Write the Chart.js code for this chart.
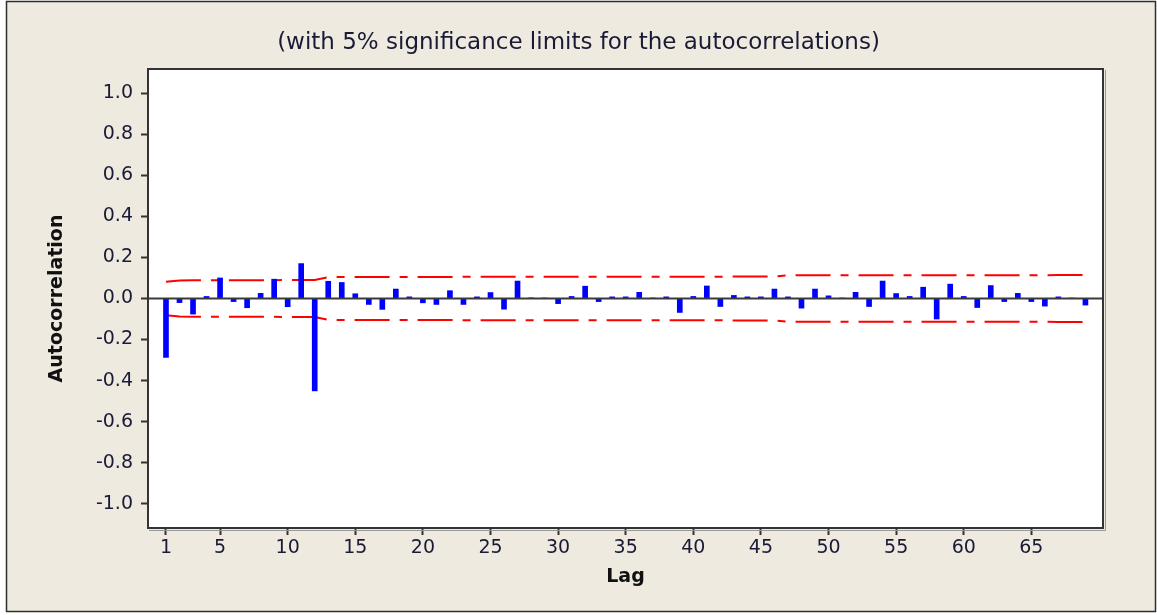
<!DOCTYPE html>
<html>
<head>
<meta charset="utf-8">
<script src="https://cdn.jsdelivr.net/npm/chart.js@4/dist/chart.umd.min.js"></script>
<style>
  html, body { margin: 0; padding: 0; background: #ffffff; }
  #wrap { width: 1157px; height: 615px; }
</style>
</head>
<body>
<div id="wrap"><canvas id="acf" width="1157" height="615"></canvas></div>
<script>
// Lags and sample autocorrelations
const lags = [
  1, 2, 3, 4, 5, 6, 7, 8, 9, 10, 11, 12, 13, 14, 15, 16, 17, 18, 19, 20,
  21, 22, 23, 24, 25, 26, 27, 28, 29, 30, 31, 32, 33, 34, 35, 36, 37, 38, 39, 40,
  41, 42, 43, 44, 45, 46, 47, 48, 49, 50, 51, 52, 53, 54, 55, 56, 57, 58, 59, 60,
  61, 62, 63, 64, 65, 66, 67, 68, 69
];
const acf = [
  -0.287, -0.020, -0.076, 0.010, 0.100, -0.015, -0.045, 0.025, 0.094, -0.040,
  0.170, -0.450, 0.084, 0.078, 0.023, -0.029, -0.053, 0.046, 0.008, -0.021,
  -0.029, 0.038, -0.029, 0.008, 0.029, -0.052, 0.085, 0.003, 0.002, -0.025,
  0.010, 0.060, -0.015, 0.008, 0.008, 0.030, 0.002, 0.008, -0.068, 0.010,
  0.061, -0.039, 0.015, 0.008, 0.008, 0.046, 0.008, -0.047, 0.046, 0.013,
  0.002, 0.030, -0.039, 0.085, 0.024, 0.010, 0.055, -0.100, 0.070, 0.010,
  -0.044, 0.063, -0.015, 0.025, -0.015, -0.037, 0.008, 0.002, -0.032
];
// 5% significance limits per lag
const upperLimit = [
  0.082, 0.088, 0.089, 0.089, 0.089, 0.089, 0.089, 0.089, 0.089, 0.090,
  0.090, 0.090, 0.104, 0.105, 0.105, 0.105, 0.105, 0.105, 0.105, 0.105,
  0.105, 0.105, 0.106, 0.106, 0.106, 0.106, 0.106, 0.106, 0.106, 0.106,
  0.106, 0.106, 0.106, 0.106, 0.106, 0.106, 0.106, 0.106, 0.106, 0.106,
  0.106, 0.106, 0.107, 0.107, 0.107, 0.107, 0.113, 0.113, 0.113, 0.113,
  0.113, 0.113, 0.113, 0.113, 0.113, 0.113, 0.113, 0.113, 0.113, 0.113,
  0.113, 0.113, 0.113, 0.113, 0.113, 0.113, 0.114, 0.114, 0.114
];
const lowerLimit = [
  -0.082, -0.088, -0.089, -0.089, -0.089, -0.089, -0.089, -0.089, -0.089, -0.090,
  -0.090, -0.090, -0.104, -0.105, -0.105, -0.105, -0.105, -0.105, -0.105, -0.105,
  -0.105, -0.105, -0.106, -0.106, -0.106, -0.106, -0.106, -0.106, -0.106, -0.106,
  -0.106, -0.106, -0.106, -0.106, -0.106, -0.106, -0.106, -0.106, -0.106, -0.106,
  -0.106, -0.106, -0.107, -0.107, -0.107, -0.107, -0.113, -0.113, -0.113, -0.113,
  -0.113, -0.113, -0.113, -0.113, -0.113, -0.113, -0.113, -0.113, -0.113, -0.113,
  -0.113, -0.113, -0.113, -0.113, -0.113, -0.113, -0.114, -0.114, -0.114
];
// Axis ticks
const xTickValues = [1, 5, 10, 15, 20, 25, 30, 35, 40, 45, 50, 55, 60, 65];
const xTickLabels = ['1', '5', '10', '15', '20', '25', '30', '35', '40', '45', '50', '55', '60', '65'];
const yTickValues = [-1.0, -0.8, -0.6, -0.4, -0.2, 0.0, 0.2, 0.4, 0.6, 0.8, 1.0];
const yTickLabels = ['-1.0', '-0.8', '-0.6', '-0.4', '-0.2', '0.0', '0.2', '0.4', '0.6', '0.8', '1.0'];
const xRange = [-0.33, 70.3];
const yRange = [-1.118, 1.118];

const FONT = '"DejaVu Sans", Verdana, sans-serif';
const TEXT = '#1a1a36';

const pairs = (xs, ys) => xs.map((x, i) => ({ x: x, y: ys[i] }));

const tickGrid = {
  offset: false,
  drawOnChartArea: false,
  drawTicks: true,
  tickLength: 7,
  tickWidth: 2,
  tickColor: '#333333'
};

// Beige panel, white plot area and the plot frame
const framePlugin = {
  id: 'frame',
  beforeDraw(chart) {
    const c = chart.ctx, a = chart.chartArea;
    c.save();
    c.fillStyle = '#ffffff';
    c.fillRect(0, 0, chart.width, chart.height);
    c.fillStyle = '#eeeae0';
    c.fillRect(6, 1, 1150, 611);
    c.strokeStyle = '#2e2e2e';
    c.lineWidth = 1.5;
    c.strokeRect(6.5, 1.5, 1149, 610);
    c.fillStyle = '#ffffff';
    c.fillRect(a.left, a.top, a.right - a.left, a.bottom - a.top);
    c.restore();
  },
  afterDatasetsDraw(chart) {
    const c = chart.ctx, a = chart.chartArea;
    c.save();
    c.strokeStyle = '#9a9a9a';
    c.lineWidth = 1;
    c.beginPath();
    c.moveTo(a.right + 2.5, a.top + 1);
    c.lineTo(a.right + 2.5, a.bottom + 2.5);
    c.lineTo(a.left + 1, a.bottom + 2.5);
    c.stroke();
    c.strokeStyle = '#333333';
    c.lineWidth = 2;
    c.strokeRect(a.left, a.top, a.right - a.left, a.bottom - a.top);
    c.restore();
  }
};

new Chart(document.getElementById('acf'), {
  type: 'bar',
  data: {
    datasets: [
      {
        type: 'line',
        data: [{ x: xRange[0], y: 0 }, { x: xRange[1], y: 0 }],
        borderColor: '#3a3a3a',
        borderWidth: 2,
        pointRadius: 0,
        order: 0
      },
      {
        type: 'bar',
        data: pairs(lags, acf),
        backgroundColor: '#0000ff',
        borderWidth: 0,
        barThickness: 5,
        order: 1
      },
      {
        type: 'line',
        data: pairs(lags, upperLimit),
        borderColor: '#ff0000',
        borderWidth: 2,
        borderDash: [35, 10, 8, 10],
        pointRadius: 0,
        tension: 0,
        fill: false,
        order: 2
      },
      {
        type: 'line',
        data: pairs(lags, lowerLimit),
        borderColor: '#ff0000',
        borderWidth: 2,
        borderDash: [35, 10, 8, 10],
        pointRadius: 0,
        tension: 0,
        fill: false,
        order: 2
      }
    ]
  },
  options: {
    responsive: false,
    devicePixelRatio: 1,
    animation: false,
    events: [],
    layout: { padding: 0 },
    plugins: {
      legend: { display: false },
      tooltip: { enabled: false },
      title: {
        display: true,
        text: '(with 5% significance limits for the autocorrelations)',
        color: TEXT,
        font: { family: FONT, size: 23, weight: 'normal' },
        padding: { top: 29.4, bottom: 12 }
      }
    },
    scales: {
      x: {
        type: 'linear',
        min: xRange[0],
        max: xRange[1],
        offset: false,
        afterBuildTicks(scale) { scale.ticks = xTickValues.map(v => ({ value: v })); },
        afterFit(scale) { scale.height = 87; },
        ticks: {
          autoSkip: false,
          maxRotation: 0,
          padding: 2,
          color: TEXT,
          font: { family: FONT, size: 19 },
          callback: (v, i) => xTickLabels[i]
        },
        grid: tickGrid,
        border: { display: false },
        title: {
          display: true,
          text: 'Lag',
          color: '#111111',
          font: { family: FONT, size: 19, weight: 'bold' },
          padding: { top: 0, bottom: 26.6 }
        }
      },
      y: {
        type: 'linear',
        position: 'left',
        min: yRange[0],
        max: yRange[1],
        afterBuildTicks(scale) { scale.ticks = yTickValues.map(v => ({ value: v })); },
        afterFit(scale) { scale.width = 148; },
        ticks: {
          padding: 8,
          color: TEXT,
          font: { family: FONT, size: 19 },
          callback: (v, i) => yTickLabels[i]
        },
        grid: tickGrid,
        border: { display: false },
        title: {
          display: true,
          text: 'Autocorrelation',
          color: '#111111',
          font: { family: FONT, size: 19, weight: 'bold' },
          padding: { top: 45.6, bottom: 0 }
        }
      },
      // empty right-hand margin band
      margin: {
        type: 'linear',
        position: 'right',
        display: true,
        afterFit(scale) { scale.width = 54; },
        ticks: { display: false },
        grid: { display: false },
        border: { display: false }
      }
    }
  },
  plugins: [framePlugin]
});
</script>
</body>
</html>
